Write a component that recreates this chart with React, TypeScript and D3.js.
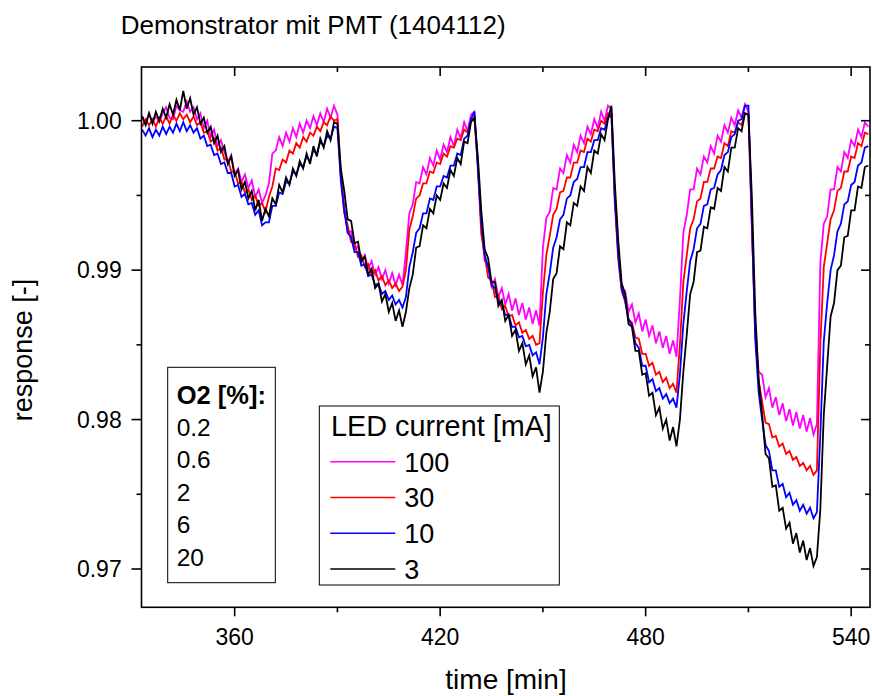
import React from "react";
import * as d3 from "d3";

const title = "Demonstrator mit PMT (1404112)";
const xTicksMajor = [360, 420, 480, 540];
const xTicksMinor = [390, 450, 510];
const yTicksMajor = [1.0, 0.99, 0.98, 0.97];
const yTicksMinor = [0.995, 0.985, 0.975];
const o2Levels = ["0.2", "0.6", "2", "6", "20"];
const ledCurrents = ["100", "30", "10", "3"];
const seriesColors = ["#ff00ff", "#ff0000", "#0000ff", "#000000"];

const time = [
  333, 334, 335, 336, 337, 338, 339, 340, 341, 342, 343, 344, 345, 346, 347, 348, 349, 350, 351, 352,
  353, 354, 355, 356, 357, 358, 359, 360, 361, 362, 363, 364, 365, 366, 367, 368, 369, 370, 371, 372,
  373, 374, 375, 376, 377, 378, 379, 380, 381, 382, 383, 384, 385, 386, 387, 388, 389, 390, 391, 392,
  393, 394, 395, 396, 397, 398, 399, 400, 401, 402, 403, 404, 405, 406, 407, 408, 409, 410, 411, 412,
  413, 414, 415, 416, 417, 418, 419, 420, 421, 422, 423, 424, 425, 426, 427, 428, 429, 430, 431, 432,
  433, 434, 435, 436, 437, 438, 439, 440, 441, 442, 443, 444, 445, 446, 447, 448, 449, 450, 451, 452,
  453, 454, 455, 456, 457, 458, 459, 460, 461, 462, 463, 464, 465, 466, 467, 468, 469, 470, 471, 472,
  473, 474, 475, 476, 477, 478, 479, 480, 481, 482, 483, 484, 485, 486, 487, 488, 489, 490, 491, 492,
  493, 494, 495, 496, 497, 498, 499, 500, 501, 502, 503, 504, 505, 506, 507, 508, 509, 510, 511, 512,
  513, 514, 515, 516, 517, 518, 519, 520, 521, 522, 523, 524, 525, 526, 527, 528, 529, 530, 531, 532,
  533, 534, 535, 536, 537, 538, 539, 540, 541, 542, 543, 544, 545,
];

const led100 = [
  1.0003, 0.9998, 1.0005, 0.9999, 1.0003, 0.9999, 1.0005, 1.0009, 1.0002, 1.0001, 1.0010, 1.0007, 1.0006, 1.0013, 1.0006, 1.0009, 1.0001, 1.0005, 0.9995, 1.0000,
  0.9989, 0.9994, 0.9983, 0.9987, 0.9979, 0.9972, 0.9977, 0.9964, 0.9968, 0.9959, 0.9964, 0.9955, 0.9960, 0.9949, 0.9954, 0.9945, 0.9950, 0.9958, 0.9978, 0.9980,
  0.9989, 0.9983, 0.9992, 0.9986, 0.9995, 0.9989, 0.9998, 0.9992, 1.0000, 0.9995, 1.0003, 0.9997, 1.0005, 0.9999, 1.0008, 1.0002, 1.0010, 1.0004, 0.9965, 0.9943,
  0.9925, 0.9926, 0.9914, 0.9916, 0.9905, 0.9910, 0.9901, 0.9906, 0.9897, 0.9902, 0.9894, 0.9900, 0.9891, 0.9898, 0.9890, 0.9897, 0.9890, 0.9912, 0.9938, 0.9944,
  0.9959, 0.9958, 0.9969, 0.9964, 0.9975, 0.9970, 0.9980, 0.9974, 0.9984, 0.9979, 0.9989, 0.9983, 0.9994, 0.9988, 0.9999, 0.9993, 1.0004, 1.0006, 0.9972, 0.9930,
  0.9906, 0.9904, 0.9889, 0.9894, 0.9882, 0.9888, 0.9877, 0.9884, 0.9873, 0.9881, 0.9870, 0.9878, 0.9867, 0.9875, 0.9864, 0.9873, 0.9863, 0.9915, 0.9935, 0.9939,
  0.9955, 0.9954, 0.9968, 0.9965, 0.9977, 0.9972, 0.9984, 0.9979, 0.9990, 0.9985, 0.9996, 0.9991, 1.0001, 0.9995, 1.0006, 1.0000, 1.0010, 1.0008, 0.9950, 0.9912,
  0.9888, 0.9886, 0.9872, 0.9877, 0.9865, 0.9871, 0.9859, 0.9867, 0.9856, 0.9863, 0.9851, 0.9859, 0.9848, 0.9856, 0.9844, 0.9853, 0.9842, 0.9880, 0.9925, 0.9937,
  0.9954, 0.9954, 0.9968, 0.9964, 0.9976, 0.9972, 0.9983, 0.9978, 0.9990, 0.9986, 0.9997, 0.9992, 1.0002, 0.9997, 1.0007, 1.0002, 1.0011, 1.0006, 0.9930, 0.9862,
  0.9832, 0.9830, 0.9815, 0.9821, 0.9808, 0.9815, 0.9803, 0.9811, 0.9799, 0.9807, 0.9796, 0.9805, 0.9794, 0.9803, 0.9792, 0.9801, 0.9790, 0.9797, 0.9905, 0.9931,
  0.9936, 0.9954, 0.9954, 0.9969, 0.9966, 0.9979, 0.9975, 0.9987, 0.9983, 0.9994, 0.9989, 0.9999, 0.9996,
];

const led30 = [
  0.9996, 1.0001, 0.9997, 1.0001, 0.9996, 1.0002, 0.9998, 1.0003, 0.9998, 1.0004, 1.0000, 1.0005, 1.0001, 1.0004, 0.9999, 1.0003, 0.9997, 0.9999, 0.9992, 0.9993,
  0.9986, 0.9988, 0.9980, 0.9982, 0.9974, 0.9974, 0.9966, 0.9966, 0.9958, 0.9959, 0.9952, 0.9954, 0.9947, 0.9950, 0.9943, 0.9945, 0.9939, 0.9949, 0.9956, 0.9968,
  0.9967, 0.9974, 0.9972, 0.9980, 0.9978, 0.9985, 0.9982, 0.9989, 0.9986, 0.9992, 0.9990, 0.9996, 0.9993, 0.9999, 0.9997, 1.0003, 1.0000, 1.0001, 0.9962, 0.9938,
  0.9930, 0.9919, 0.9918, 0.9909, 0.9910, 0.9902, 0.9904, 0.9897, 0.9900, 0.9893, 0.9896, 0.9890, 0.9893, 0.9888, 0.9891, 0.9886, 0.9889, 0.9900, 0.9927, 0.9936,
  0.9948, 0.9950, 0.9958, 0.9958, 0.9966, 0.9965, 0.9972, 0.9971, 0.9978, 0.9976, 0.9983, 0.9982, 0.9988, 0.9987, 0.9994, 0.9992, 1.0000, 1.0002, 0.9970, 0.9924,
  0.9910, 0.9895, 0.9893, 0.9882, 0.9883, 0.9874, 0.9876, 0.9869, 0.9870, 0.9863, 0.9865, 0.9858, 0.9860, 0.9854, 0.9856, 0.9850, 0.9851, 0.9885, 0.9910, 0.9923,
  0.9937, 0.9941, 0.9952, 0.9953, 0.9962, 0.9962, 0.9972, 0.9972, 0.9980, 0.9979, 0.9988, 0.9986, 0.9994, 0.9993, 1.0000, 0.9998, 1.0005, 1.0004, 0.9945, 0.9907,
  0.9886, 0.9879, 0.9867, 0.9865, 0.9855, 0.9854, 0.9844, 0.9844, 0.9836, 0.9838, 0.9830, 0.9832, 0.9825, 0.9828, 0.9821, 0.9824, 0.9818, 0.9850, 0.9892, 0.9910,
  0.9928, 0.9934, 0.9946, 0.9948, 0.9959, 0.9959, 0.9968, 0.9968, 0.9976, 0.9975, 0.9985, 0.9983, 0.9993, 0.9992, 0.9999, 0.9997, 1.0005, 1.0004, 0.9930, 0.9857,
  0.9826, 0.9812, 0.9798, 0.9797, 0.9788, 0.9789, 0.9782, 0.9784, 0.9777, 0.9779, 0.9773, 0.9775, 0.9769, 0.9771, 0.9766, 0.9769, 0.9763, 0.9766, 0.9850, 0.9902,
  0.9918, 0.9934, 0.9940, 0.9953, 0.9955, 0.9966, 0.9966, 0.9976, 0.9975, 0.9985, 0.9983, 0.9992, 0.9991,
];

const led10 = [
  0.9994, 0.9990, 0.9995, 0.9989, 0.9994, 0.9990, 0.9996, 0.9991, 0.9996, 0.9992, 0.9998, 0.9993, 0.9999, 0.9993, 0.9997, 0.9992, 0.9995, 0.9988, 0.9990, 0.9983,
  0.9984, 0.9977, 0.9978, 0.9971, 0.9972, 0.9965, 0.9965, 0.9956, 0.9957, 0.9949, 0.9951, 0.9944, 0.9945, 0.9937, 0.9940, 0.9930, 0.9932, 0.9932, 0.9943, 0.9943,
  0.9952, 0.9951, 0.9959, 0.9958, 0.9966, 0.9964, 0.9971, 0.9969, 0.9976, 0.9973, 0.9980, 0.9978, 0.9986, 0.9983, 0.9990, 0.9988, 0.9996, 0.9995, 0.9960, 0.9940,
  0.9925, 0.9922, 0.9912, 0.9912, 0.9903, 0.9904, 0.9896, 0.9897, 0.9890, 0.9891, 0.9884, 0.9886, 0.9880, 0.9883, 0.9877, 0.9880, 0.9875, 0.9882, 0.9902, 0.9912,
  0.9925, 0.9928, 0.9938, 0.9938, 0.9948, 0.9947, 0.9956, 0.9956, 0.9963, 0.9962, 0.9970, 0.9970, 0.9978, 0.9977, 0.9988, 0.9990, 1.0001, 1.0006, 0.9968, 0.9932,
  0.9910, 0.9902, 0.9890, 0.9888, 0.9879, 0.9878, 0.9870, 0.9870, 0.9862, 0.9862, 0.9855, 0.9856, 0.9849, 0.9850, 0.9843, 0.9845, 0.9837, 0.9855, 0.9884, 0.9898,
  0.9915, 0.9922, 0.9934, 0.9937, 0.9948, 0.9950, 0.9959, 0.9961, 0.9969, 0.9969, 0.9979, 0.9979, 0.9987, 0.9987, 0.9995, 0.9994, 1.0002, 1.0004, 0.9948, 0.9910,
  0.9888, 0.9880, 0.9867, 0.9863, 0.9851, 0.9848, 0.9836, 0.9836, 0.9825, 0.9827, 0.9819, 0.9821, 0.9814, 0.9817, 0.9811, 0.9814, 0.9808, 0.9830, 0.9864, 0.9886,
  0.9906, 0.9914, 0.9928, 0.9931, 0.9943, 0.9944, 0.9954, 0.9955, 0.9964, 0.9967, 0.9977, 0.9979, 0.9989, 0.9991, 1.0000, 1.0001, 1.0010, 1.0010, 0.9935, 0.9854,
  0.9818, 0.9800, 0.9783, 0.9779, 0.9766, 0.9766, 0.9755, 0.9757, 0.9748, 0.9751, 0.9743, 0.9746, 0.9739, 0.9743, 0.9737, 0.9741, 0.9734, 0.9738, 0.9790, 0.9852,
  0.9878, 0.9900, 0.9910, 0.9926, 0.9931, 0.9944, 0.9946, 0.9957, 0.9959, 0.9970, 0.9972, 0.9982, 0.9983,
];

const led3 = [
  1.0003, 0.9997, 1.0005, 0.9998, 1.0006, 1.0000, 1.0008, 1.0002, 1.0011, 1.0004, 1.0014, 1.0007, 1.0020, 1.0008, 1.0015, 1.0004, 1.0009, 0.9998, 1.0002, 0.9992,
  0.9996, 0.9985, 0.9990, 0.9979, 0.9983, 0.9971, 0.9976, 0.9963, 0.9967, 0.9954, 0.9959, 0.9948, 0.9953, 0.9940, 0.9947, 0.9933, 0.9941, 0.9936, 0.9948, 0.9944,
  0.9957, 0.9952, 0.9962, 0.9957, 0.9968, 0.9963, 0.9973, 0.9968, 0.9978, 0.9971, 0.9983, 0.9976, 0.9988, 0.9982, 0.9993, 0.9987, 0.9999, 0.9998, 0.9968, 0.9953,
  0.9934, 0.9933, 0.9918, 0.9919, 0.9906, 0.9909, 0.9897, 0.9901, 0.9888, 0.9891, 0.9879, 0.9884, 0.9872, 0.9878, 0.9866, 0.9873, 0.9862, 0.9872, 0.9888, 0.9897,
  0.9915, 0.9916, 0.9930, 0.9928, 0.9941, 0.9938, 0.9950, 0.9947, 0.9958, 0.9955, 0.9967, 0.9963, 0.9975, 0.9971, 0.9986, 0.9985, 0.9999, 1.0002, 0.9976, 0.9940,
  0.9914, 0.9908, 0.9892, 0.9892, 0.9876, 0.9880, 0.9866, 0.9870, 0.9856, 0.9860, 0.9846, 0.9851, 0.9837, 0.9843, 0.9829, 0.9835, 0.9818, 0.9832, 0.9858, 0.9872,
  0.9894, 0.9898, 0.9916, 0.9914, 0.9932, 0.9930, 0.9945, 0.9943, 0.9956, 0.9953, 0.9969, 0.9965, 0.9980, 0.9978, 0.9991, 0.9987, 1.0001, 1.0010, 0.9958, 0.9920,
  0.9891, 0.9884, 0.9864, 0.9862, 0.9846, 0.9846, 0.9830, 0.9831, 0.9816, 0.9818, 0.9803, 0.9808, 0.9794, 0.9800, 0.9786, 0.9795, 0.9782, 0.9800, 0.9832, 0.9857,
  0.9884, 0.9892, 0.9912, 0.9913, 0.9929, 0.9928, 0.9942, 0.9941, 0.9955, 0.9953, 0.9969, 0.9966, 0.9982, 0.9982, 0.9995, 0.9993, 1.0005, 1.0004, 0.9950, 0.9872,
  0.9826, 0.9804, 0.9777, 0.9774, 0.9755, 0.9756, 0.9739, 0.9741, 0.9727, 0.9731, 0.9717, 0.9724, 0.9711, 0.9719, 0.9706, 0.9714, 0.9702, 0.9708, 0.9740, 0.9803,
  0.9836, 0.9869, 0.9878, 0.9900, 0.9903, 0.9922, 0.9923, 0.9940, 0.9940, 0.9956, 0.9955, 0.9969, 0.9970,
];

const seriesValues = [led100, led30, led10, led3];

const W = 872;
const H = 696;
const plot = { left: 141.5, right: 870, top: 67, bottom: 607.3 };

const x = d3.scaleLinear().domain([332.8, 545.5]).range([plot.left, plot.right]);
const y = d3.scaleLinear().domain([0.967437, 1.003594]).range([plot.bottom, plot.top]);

const font = "'Liberation Sans', Arial, sans-serif";

export default function App() {
  const line = d3
    .line<number>()
    .x((_, i) => x(time[i]))
    .y((d) => y(d));

  const legendY = d3.scalePoint<string>().domain(ledCurrents).range([461.7, 569]);
  const o2Y = d3.scalePoint<string>().domain(o2Levels).range([436, 565.5]);

  return (
    <div style={{ position: "absolute", left: 0, top: 0 }}>
      <svg width={W} height={H} style={{ display: "block", background: "#fff" }} fontFamily={font}>
        <defs>
          <clipPath id="plotclip">
            <rect x={plot.left} y={plot.top} width={plot.right - plot.left} height={plot.bottom - plot.top} />
          </clipPath>
        </defs>
        <text x={120.7} y={34.3} fontSize={26} fill="#000">
          {title}
        </text>

        <g clipPath="url(#plotclip)">
          {seriesValues.map((vals, si) => (
            <path
              key={si}
              d={line(vals) || ""}
              fill="none"
              stroke={seriesColors[si]}
              strokeWidth={1.8}
              strokeLinejoin="miter"
            />
          ))}
        </g>

        {/* frame */}
        <rect
          x={plot.left}
          y={plot.top}
          width={plot.right - plot.left}
          height={plot.bottom - plot.top}
          fill="none"
          stroke="#000"
          strokeWidth={1.6}
        />

        {/* bottom & top ticks */}
        {xTicksMajor.map((t) => (
          <g key={"xm" + t}>
            <line x1={x(t)} x2={x(t)} y1={plot.bottom} y2={plot.bottom + 9} stroke="#000" strokeWidth={1.6} />
            <line x1={x(t)} x2={x(t)} y1={plot.top} y2={plot.top + 9} stroke="#000" strokeWidth={1.6} />
            <text x={x(t)} y={645} fontSize={23} textAnchor="middle" fill="#000">
              {t}
            </text>
          </g>
        ))}
        {xTicksMinor.map((t) => (
          <g key={"xn" + t}>
            <line x1={x(t)} x2={x(t)} y1={plot.bottom} y2={plot.bottom + 5} stroke="#000" strokeWidth={1.6} />
            <line x1={x(t)} x2={x(t)} y1={plot.top} y2={plot.top + 5} stroke="#000" strokeWidth={1.6} />
          </g>
        ))}

        {/* left & right ticks */}
        {yTicksMajor.map((v) => (
          <g key={"ym" + v}>
            <line x1={plot.left - 10} x2={plot.left} y1={y(v)} y2={y(v)} stroke="#000" strokeWidth={1.6} />
            <line x1={plot.right - 9} x2={plot.right} y1={y(v)} y2={y(v)} stroke="#000" strokeWidth={1.6} />
            <text x={121.7} y={y(v) + 8.2} fontSize={23} textAnchor="end" fill="#000">
              {d3.format(".2f")(v)}
            </text>
          </g>
        ))}
        {yTicksMinor.map((v) => (
          <g key={"yn" + v}>
            <line x1={plot.left - 5} x2={plot.left} y1={y(v)} y2={y(v)} stroke="#000" strokeWidth={1.6} />
            <line x1={plot.right - 5} x2={plot.right} y1={y(v)} y2={y(v)} stroke="#000" strokeWidth={1.6} />
          </g>
        ))}

        {/* axis titles */}
        <text x={506} y={689} fontSize={28} textAnchor="middle" fill="#000">
          time [min]
        </text>
        <text
          transform={`translate(32,350) rotate(-90)`}
          fontSize={27}
          textAnchor="middle"
          fill="#000"
        >
          response [-]
        </text>

        {/* O2 box */}
        <rect x={167.7} y={367.3} width={107.6} height={215.4} fill="#fff" stroke="#000" strokeWidth={1} />
        <text x={176.7} y={404.3} fontSize={25.5} fontWeight="bold" fill="#000">
          O2 [%]:
        </text>
        {o2Levels.map((l) => (
          <text key={l} x={176.7} y={o2Y(l)} fontSize={24.5} fill="#000">
            {l}
          </text>
        ))}

        {/* LED legend */}
        <rect x={319.3} y={406} width={240} height={179} fill="#fff" stroke="#000" strokeWidth={1} />
        <text x={331} y={436} fontSize={28.8} fill="#000">
          LED current [mA]
        </text>
        {ledCurrents.map((c, i) => (
          <g key={c}>
            <line
              x1={330.3}
              x2={395.3}
              y1={legendY(c)}
              y2={legendY(c)}
              stroke={seriesColors[i]}
              strokeWidth={1.4}
            />
            <text x={404.3} y={(legendY(c) as number) + 10} fontSize={27} fill="#000">
              {c}
            </text>
          </g>
        ))}
      </svg>
    </div>
  );
}
